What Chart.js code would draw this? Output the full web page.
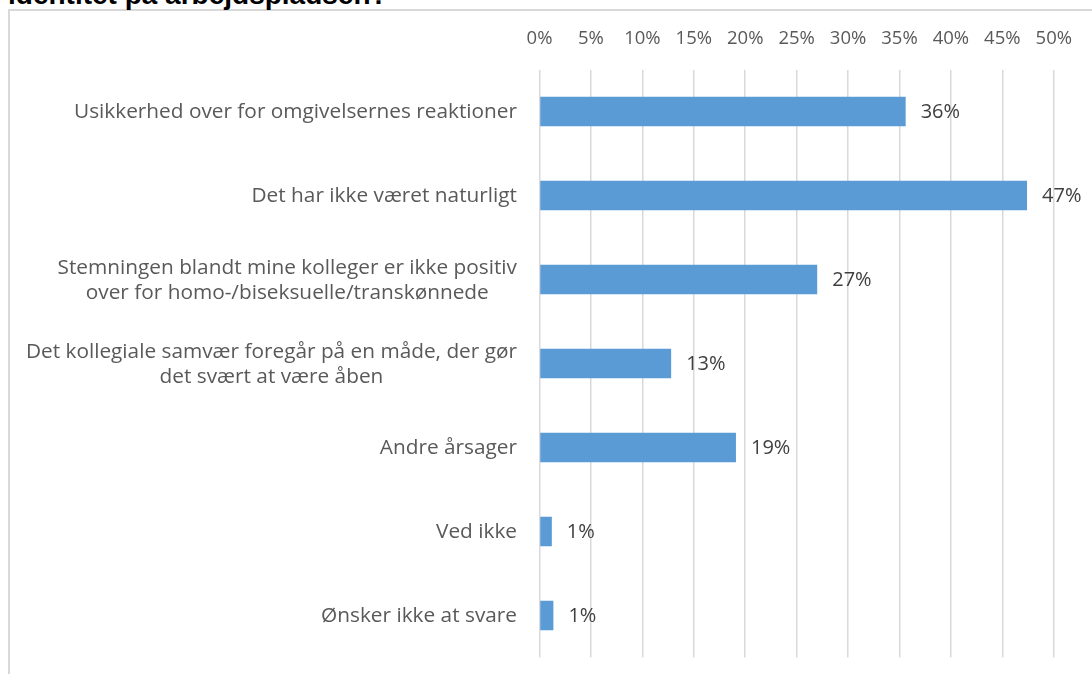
<!DOCTYPE html>
<html>
<head>
<meta charset="utf-8">
<script src="https://cdn.jsdelivr.net/npm/chart.js@4.4.1/dist/chart.umd.min.js"></script>
<style>
  html, body { margin: 0; padding: 0; background: #ffffff; overflow: hidden; }
  #wrap { position: absolute; left: 0; top: 0; width: 1092px; height: 674px; }
  #frame { position: absolute; left: 8px; top: 9px; width: 1200px; height: 800px;
           border-left: 2px solid #d9d9d9; border-top: 2px solid #d9d9d9; }
  #title { position: absolute; left: 8px; top: -19px; margin: 0; white-space: nowrap;
           font: bold 28px "Liberation Sans", Arial, sans-serif; line-height: 28px; color: #000; }
  #chartBox { position: absolute; left: 0; top: 0; width: 1092px; height: 674px; }
</style>
</head>
<body>
<div id="wrap">
  <div id="frame"></div>
  <div id="title">identitet på arbejdspladsen?</div>
  <div id="chartBox"><canvas id="c"></canvas></div>
</div>
<script>
// ---- data ----
const categories = [
  ["Usikkerhed over for omgivelsernes reaktioner"],
  ["Det har ikke været naturligt"],
  ["Stemningen blandt mine kolleger er ikke positiv", "over for homo-/biseksuelle/transkønnede"],
  ["Det kollegiale samvær foregår på en måde, der gør", "det svært at være åben"],
  ["Andre årsager"],
  ["Ved ikke"],
  ["Ønsker ikke at svare"]
];
const values = [35.6, 47.4, 27.0, 12.8, 19.1, 1.2, 1.35];
const tickValues = [0, 5, 10, 15, 20, 25, 30, 35, 40, 45, 50];

const FONT = '"Open Sans", "Liberation Sans", sans-serif';

const categoryLabelPlugin = {
  id: 'categoryLabels',
  afterDraw(chart) {
    const ctx = chart.ctx;
    const yScale = chart.scales.y;
    const rightEdge = 517;
    const lineH = 25;
    ctx.save();
    ctx.font = '20.8px ' + FONT;
    ctx.fillStyle = '#595959';
    ctx.textAlign = 'center';
    ctx.textBaseline = 'middle';
    categories.forEach((lines, i) => {
      const cy = yScale.getPixelForValue(i) + 1;
      const w = Math.max(...lines.map(l => ctx.measureText(l).width));
      const cx = rightEdge - w / 2;
      const y0 = cy - (lines.length - 1) * lineH / 2;
      lines.forEach((l, j) => ctx.fillText(l, cx, y0 + j * lineH));
    });
    ctx.restore();
  }
};

const valueLabelPlugin = {
  id: 'valueLabels',
  afterDatasetsDraw(chart) {
    const ctx = chart.ctx;
    const meta = chart.getDatasetMeta(0);
    ctx.save();
    ctx.font = '20px ' + FONT;
    ctx.fillStyle = '#404040';
    ctx.textAlign = 'left';
    ctx.textBaseline = 'middle';
    meta.data.forEach((bar, i) => {
      ctx.fillText(Math.round(values[i]) + '%', bar.x + 15, bar.y + 1);
    });
    ctx.restore();
  }
};

new Chart(document.getElementById('c'), {
  type: 'bar',
  data: {
    labels: categories.map(c => c.join(' ')),
    datasets: [{
      data: values,
      backgroundColor: '#5b9bd5',
      borderWidth: 0,
      categoryPercentage: 1.0,
      barPercentage: 0.35
    }]
  },
  options: {
    indexAxis: 'y',
    responsive: true,
    maintainAspectRatio: false,
    animation: false,
    events: [],
    layout: { padding: { left: 0, top: 0, right: 37, bottom: 16.5 } },
    plugins: { legend: { display: false }, tooltip: { enabled: false }, title: { display: false } },
    scales: {
      x: {
        position: 'top',
        min: 0,
        max: 50,
        afterBuildTicks(scale) { scale.ticks = tickValues.map(v => ({ value: v })); },
        afterFit(scale) { scale.height = 69.5; },
        ticks: {
          padding: 20,
          color: '#595959',
          font: { family: FONT, size: 18.5 },
          callback: v => v + '%'
        },
        grid: { color: '#d9d9d9', lineWidth: 1.5, drawTicks: false },
        border: { display: false }
      },
      y: {
        afterFit(scale) { scale.width = 539.5; },
        ticks: { display: false },
        grid: { display: false, drawTicks: false },
        border: { display: false }
      }
    }
  },
  plugins: [categoryLabelPlugin, valueLabelPlugin]
});
</script>
</body>
</html>
